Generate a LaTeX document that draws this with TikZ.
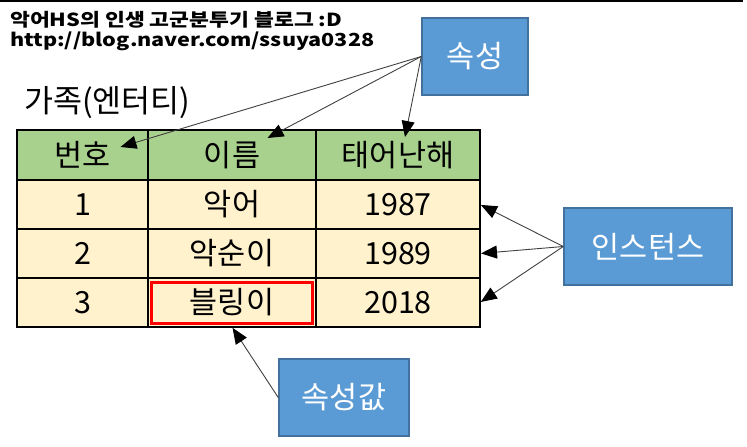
\documentclass[tikz,border=0pt]{standalone}
\usepackage{fontspec}
\setmainfont{Noto Sans CJK KR}
\newfontfamily\notefamily[FakeStretch=1.2]{Noto Sans CJK KR}
\usetikzlibrary{positioning,arrows.meta}

\definecolor{headgreen}{HTML}{A9D18E}
\definecolor{rowcream}{HTML}{FFF2CC}
\definecolor{boxblue}{HTML}{5B9BD5}
\definecolor{boxedge}{HTML}{41719C}
\definecolor{linegray}{HTML}{404040}

\newcommand{\cellfont}{\fontsize{30.5}{34}\selectfont}
\newcommand{\titlefont}{\fontsize{31.5}{34}\selectfont}
\newcommand{\notefont}{\notefamily\fontsize{18}{20}\selectfont\bfseries}

\begin{document}
\begin{tikzpicture}[x=1pt, y=-1pt,
        headcell/.style={rectangle, draw=black, fill=headgreen, line width=2.5pt, outer sep=0pt, inner sep=0pt, minimum height=50pt, font=\cellfont},
        bodycell/.style={rectangle, draw=black, fill=rowcream, line width=2.5pt, outer sep=0pt, inner sep=0pt, minimum height=49pt, font=\cellfont},
        numcol/.style={minimum width=131pt},
        namecol/.style={minimum width=168pt},
        yearcol/.style={minimum width=164pt},
        labelbox/.style={rectangle, draw=boxedge, fill=boxblue, line width=1.5pt, text=white, inner sep=0pt, minimum height=77pt, font=\cellfont},
        pickbox/.style={rectangle, draw=red, line width=3pt, inner sep=0pt, minimum width=161pt, minimum height=41pt},
        pointer/.style={draw=linegray, line width=0.9pt, -{Triangle[length=16pt, width=13pt, color=black]}},
    ]
    \useasboundingbox (0,0) rectangle (747,447);
    \draw[line width=2pt] (0,1) -- (743,1);

    %Blog note and title
    \node[anchor=north west, align=left, font=\notefont, inner sep=0pt] (blog_note) at (10,11)
        {악어HS의 인생 고군분투기 블로그 :D\\http://blog.naver.com/ssuya0328};
    \node[anchor=west, inner sep=0pt, font=\titlefont] (entity_title) at (24,103) {가족(엔터티)};

    %Nodes: header row
    \node[headcell, numcol, anchor=north west] (head_num) at (17,130) {번호};
    \node[headcell, namecol] (head_name) [right=0pt of head_num]  {이름};
    \node[headcell, yearcol] (head_year) [right=0pt of head_name] {태어난해};

    %Nodes: row 1
    \node[bodycell, numcol]  (row1_num)  [below=0pt of head_num]  {1};
    \node[bodycell, namecol] (row1_name) [below=0pt of head_name] {악어};
    \node[bodycell, yearcol] (row1_year) [below=0pt of head_year] {1987};

    %Nodes: row 2
    \node[bodycell, numcol]  (row2_num)  [below=0pt of row1_num]  {2};
    \node[bodycell, namecol] (row2_name) [below=0pt of row1_name] {악순이};
    \node[bodycell, yearcol] (row2_year) [below=0pt of row1_year] {1989};

    %Nodes: row 3
    \node[bodycell, numcol]  (row3_num)  [below=0pt of row2_num]  {3};
    \node[bodycell, namecol] (row3_name) [below=0pt of row2_name] {블링이};
    \node[bodycell, yearcol] (row3_year) [below=0pt of row2_year] {2018};

    \node[pickbox] (pick) at (row3_name.center) {};

    %Nodes: blue labels
    \node[labelbox, minimum width=106pt] (attr)       at (475,56.5)  {속성};
    \node[labelbox, minimum width=168pt] (instance)   at (648,246.5) {인스턴스};
    \node[labelbox, minimum width=130pt] (attr_value) at (344,397.5) {속성값};

    %Arrow tips inside the header
    \coordinate (num_tip)  at ([shift={(38,-8)}]head_num.center);
    \coordinate (name_tip) at ([shift={(35.5,-17)}]head_name.center);
    \coordinate (year_tip) at ([shift={(7,-18)}]head_year.center);

    %Lines: labels to table
    \path (attr.west) edge[pointer] (num_tip);
    \path (attr.west) edge[pointer] (name_tip);
    \path (attr.west) edge[pointer] (year_tip);

    \path (instance.west) edge[pointer, shorten >=1pt] (row1_year.east);
    \path (instance.west) edge[pointer, shorten >=1pt] (row2_year.east);
    \path (instance.west) edge[pointer, shorten >=1pt] (row3_year.east);

    \path (attr_value.west) edge[pointer, shorten >=1pt] (row3_name.south);
\end{tikzpicture}
\end{document}
